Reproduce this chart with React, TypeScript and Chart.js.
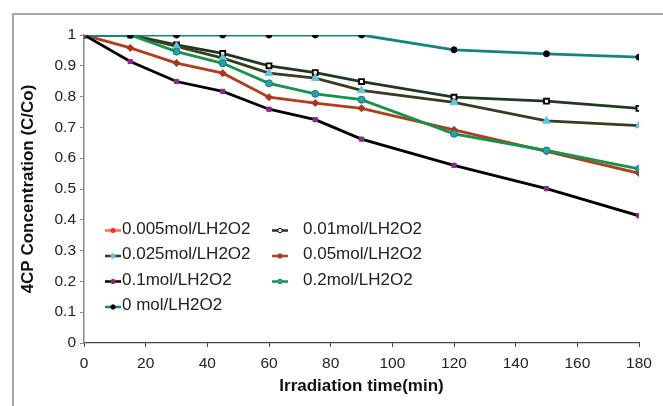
import React, { useEffect, useRef } from "react";
import { Chart, registerables } from "chart.js";

Chart.register(...registerables);

const times = [0, 15, 30, 45, 60, 75, 90, 120, 150, 180];
const seriesLabels = [
  "0.005mol/LH2O2",
  "0.01mol/LH2O2",
  "0.025mol/LH2O2",
  "0.05mol/LH2O2",
  "0.1mol/LH2O2",
  "0.2mol/LH2O2",
  "0 mol/LH2O2",
];
const s0005: number[] = [];
const s001 = [1, 1, 0.968, 0.94, 0.9, 0.878, 0.849, 0.798, 0.785, 0.762];
const s0025 = [1, 1, 0.963, 0.925, 0.876, 0.86, 0.82, 0.781, 0.721, 0.706];
const s005 = [1, 0.958, 0.909, 0.876, 0.798, 0.779, 0.762, 0.692, 0.622, 0.551];
const s01 = [1, 0.914, 0.849, 0.817, 0.759, 0.725, 0.662, 0.577, 0.501, 0.413];
const s02 = [1, 1, 0.946, 0.908, 0.843, 0.809, 0.79, 0.679, 0.625, 0.565];
const s0 = [1, 1, 1, 1, 1, 1, 1, 0.952, 0.939, 0.928];
const yTitle = "4CP Concentration (C/Co)";
const xTitle = "Irradiation time(min)";

const FONT = "'Liberation Sans', Arial, sans-serif";

const styles = [
  { line: "#ff7033", pFill: "#ff2a2a", pBorder: "#ff2a2a", shape: "crossRot", r: 3 },
  { line: "#1e3a1e", pFill: "#ffffff", pBorder: "#000000", shape: "rect", r: 3.5 },
  { line: "#3b3b1f", pFill: "#5cc6dc", pBorder: "#5cc6dc", shape: "triangle", r: 4.5 },
  { line: "#b03e1e", pFill: "#a8381c", pBorder: "#a8381c", shape: "rectRot", r: 3.5 },
  { line: "#000000", pFill: "#882a88", pBorder: "#882a88", shape: "rect", r: 3 },
  { line: "#17924c", pFill: "#2aa0a0", pBorder: "#137c7c", shape: "circle", r: 3.5 },
  { line: "#118484", pFill: "#000000", pBorder: "#000000", shape: "circle", r: 3 },
];
const values = [s0005, s001, s0025, s005, s01, s02, s0];
const orders = [6, 5, 4, 3, 0, 2, 1];

const framePlugin = {
  id: "frame",
  beforeDraw(chart: any) {
    const ctx = chart.ctx;
    ctx.save();
    ctx.fillStyle = "#ffffff";
    ctx.fillRect(0, 0, chart.width, chart.height);
    ctx.strokeStyle = "#8a8a8a";
    ctx.lineWidth = 1.5;
    ctx.beginPath();
    ctx.moveTo(13, chart.height);
    ctx.lineTo(13, 14);
    ctx.lineTo(chart.width, 14);
    ctx.stroke();
    ctx.restore();
  },
};

const legendPlugin = {
  id: "customLegend",
  afterDraw(chart: any) {
    const ctx = chart.ctx;
    const colX = [105, 272];
    const textX = [122, 303];
    const rowY = [229, 254.5, 280, 305.5];
    ctx.save();
    chart.data.datasets.forEach((ds: any, i: number) => {
      const col = i % 2;
      const row = Math.floor(i / 2);
      const st = styles[i];
      const y = rowY[row] + 1.5;
      ctx.strokeStyle = st.line;
      ctx.lineWidth = 2.5;
      ctx.beginPath();
      ctx.moveTo(colX[col], y);
      ctx.lineTo(colX[col] + 16, y);
      ctx.stroke();
      ctx.fillStyle = st.pFill;
      ctx.strokeStyle = st.pBorder;
      ctx.lineWidth = 1;
      ctx.beginPath();
      ctx.arc(colX[col] + 8, y, 2.2, 0, Math.PI * 2);
      ctx.fill();
      ctx.stroke();
      ctx.fillStyle = "#222222";
      ctx.font = `17px ${FONT}`;
      ctx.textBaseline = "middle";
      ctx.textAlign = "left";
      ctx.fillText(ds.label, textX[col], rowY[row]);
    });
    ctx.restore();
  },
};

export default function App() {
  const ref = useRef<HTMLCanvasElement>(null);
  useEffect(() => {
    document.body.style.margin = "0";
    const canvas = ref.current!;
    const chart = new Chart(canvas, {
      type: "line",
      data: {
        datasets: seriesLabels.map((label, i) => ({
          label,
          data: values[i].map((v, k) => ({ x: times[k], y: v })),
          borderColor: styles[i].line,
          backgroundColor: styles[i].pFill,
          pointBackgroundColor: styles[i].pFill,
          pointBorderColor: styles[i].pBorder,
          pointBorderWidth: i === 1 ? 1.8 : 1,
          pointStyle: styles[i].shape as any,
          pointRadius: styles[i].r,
          borderWidth: 2.8,
          tension: 0,
          fill: false,
          order: orders[i],
        })),
      },
      options: {
        animation: false,
        responsive: false,
        devicePixelRatio: 1,
        layout: { padding: { left: 0, top: 35, right: 24, bottom: 0 } },
        plugins: {
          legend: { display: false },
          tooltip: { enabled: false },
        },
        scales: {
          x: {
            type: "linear",
            min: 0,
            max: 180,
            ticks: {
              stepSize: 20,
              color: "#222222",
              font: { family: FONT, size: 15.5 },
              padding: 7,
              maxRotation: 0,
            },
            grid: { drawOnChartArea: false, tickLength: 4, color: "#444444" },
            border: { color: "#444444", width: 1.2 },
            title: {
              display: true,
              text: xTitle,
              color: "#111111",
              font: { family: FONT, size: 17, weight: "bold" },
              padding: { top: 0, bottom: 9 },
            },
            afterFit(scale: any) {
              scale.height = 63;
            },
          },
          y: {
            min: 0,
            max: 1,
            ticks: {
              stepSize: 0.1,
              color: "#222222",
              font: { family: FONT, size: 15.5 },
              padding: 4,
              callback: (v: any) => String(Number(Number(v).toFixed(1))),
            },
            grid: { drawOnChartArea: false, tickLength: 4, color: "#888888" },
            border: { color: "#888888", width: 1.5 },
            title: {
              display: true,
              text: yTitle,
              color: "#111111",
              font: { family: FONT, size: 17, weight: "bold" },
              padding: { top: 18, bottom: 0 },
            },
            afterFit(scale: any) {
              scale.width = 84;
            },
          },
        },
      },
      plugins: [framePlugin, legendPlugin],
    });
    return () => chart.destroy();
  }, []);
  return (
    <div style={{ width: 663, height: 406 }}>
      <canvas ref={ref} width={663} height={406} style={{ display: "block" }} />
    </div>
  );
}
